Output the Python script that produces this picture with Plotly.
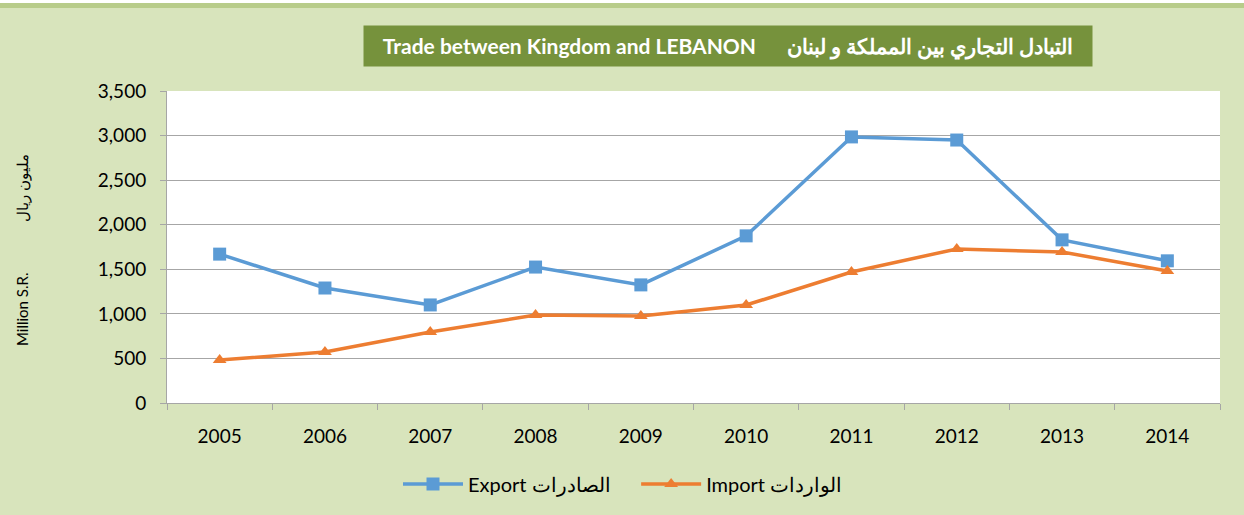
import plotly.graph_objects as go

years = ["2005", "2006", "2007", "2008", "2009", "2010", "2011", "2012", "2013", "2014"]
export_vals = [1670, 1290, 1100, 1525, 1325, 1875, 2985, 2950, 1830, 1595]
import_vals = [482, 572, 796, 987, 976, 1099, 1470, 1728, 1694, 1481]
y_ticks = [0, 500, 1000, 1500, 2000, 2500, 3000, 3500]

FONT = "Lato"

fig = go.Figure()
fig.add_trace(go.Scatter(
    x=years, y=export_vals, name="Export الصادرات\u00a0\u00a0\u00a0\u00a0", mode="lines+markers",
    line=dict(color="#5B9BD5", width=3.5),
    marker=dict(symbol="square", size=13, color="#5B9BD5"),
))
fig.add_trace(go.Scatter(
    x=years, y=import_vals, name="Import الواردات", mode="lines+markers",
    line=dict(color="#ED7D31", width=3.5),
    marker=dict(symbol="triangle-up", size=12, color="#ED7D31"),
))

fig.update_layout(
    width=1244, height=515,
    paper_bgcolor="#D8E4BC", plot_bgcolor="#FFFFFF",
    margin=dict(l=167, r=24, t=91, b=112),
    font=dict(family=FONT, size=19, color="#000000"),
    showlegend=True,
    legend=dict(orientation="h", x=(623 - 167) / 1053, xanchor="center", y=-0.26, yanchor="middle",
                font=dict(size=20, family=FONT), bgcolor="rgba(0,0,0,0)", traceorder="normal",
                itemwidth=60),
    xaxis=dict(type="category", tickson="boundaries", ticks="outside", ticklen=6,
               tickcolor="#A6A6A6", showline=True, linecolor="#A6A6A6", linewidth=1,
               showgrid=False, range=[-0.5, 9.5], tickfont=dict(size=19), ticklabelstandoff=16),
    yaxis=dict(range=[0, 3500], tickvals=y_ticks, tickformat=",", ticks="outside", ticklen=6,
               tickcolor="#A6A6A6", showline=True, linecolor="#A6A6A6", linewidth=1,
               gridcolor="#A6A6A6", gridwidth=1, zeroline=False, tickfont=dict(size=19),
               ticklabelstandoff=10),
    shapes=[
        dict(type="rect", xref="paper", yref="paper", x0=-1, x1=2,
             y0=1 + (91 - 8) / 312, y1=1 + (91 - 3) / 312,
             fillcolor="#B8CC8A", line=dict(width=0), layer="below"),
        dict(type="rect", xref="paper", yref="paper", x0=-1, x1=2,
             y0=1 + (91 - 3) / 312, y1=1 + 91 / 312,
             fillcolor="#FFFFFF", line=dict(width=0), layer="below"),
    ],
    annotations=[
        dict(text="<b>Trade between Kingdom and LEBANON      التبادل التجاري بين المملكة و لبنان</b>",
             xref="paper", yref="paper", x=(728 - 167) / 1053, y=1 + (91 - 46) / 312,
             xanchor="center", yanchor="middle", showarrow=False,
             font=dict(color="#FFFFFF", size=21, family=FONT),
             bgcolor="#76923C", width=726, height=38),
        dict(text="Million S.R.", xref="paper", yref="paper",
             x=(22 - 167) / 1053, y=(403 - 310) / 312, textangle=-90, showarrow=False,
             font=dict(size=15, family=FONT), xanchor="center", yanchor="middle"),
        dict(text="مليون ريال", xref="paper", yref="paper",
             x=(22 - 167) / 1053, y=(403 - 188) / 312, textangle=-90, showarrow=False,
             font=dict(size=15, family=FONT), xanchor="center", yanchor="middle"),
    ],
)

fig.write_html("out.html", post_script="document.body.style.margin='0';",
               config={"displayModeBar": False})
